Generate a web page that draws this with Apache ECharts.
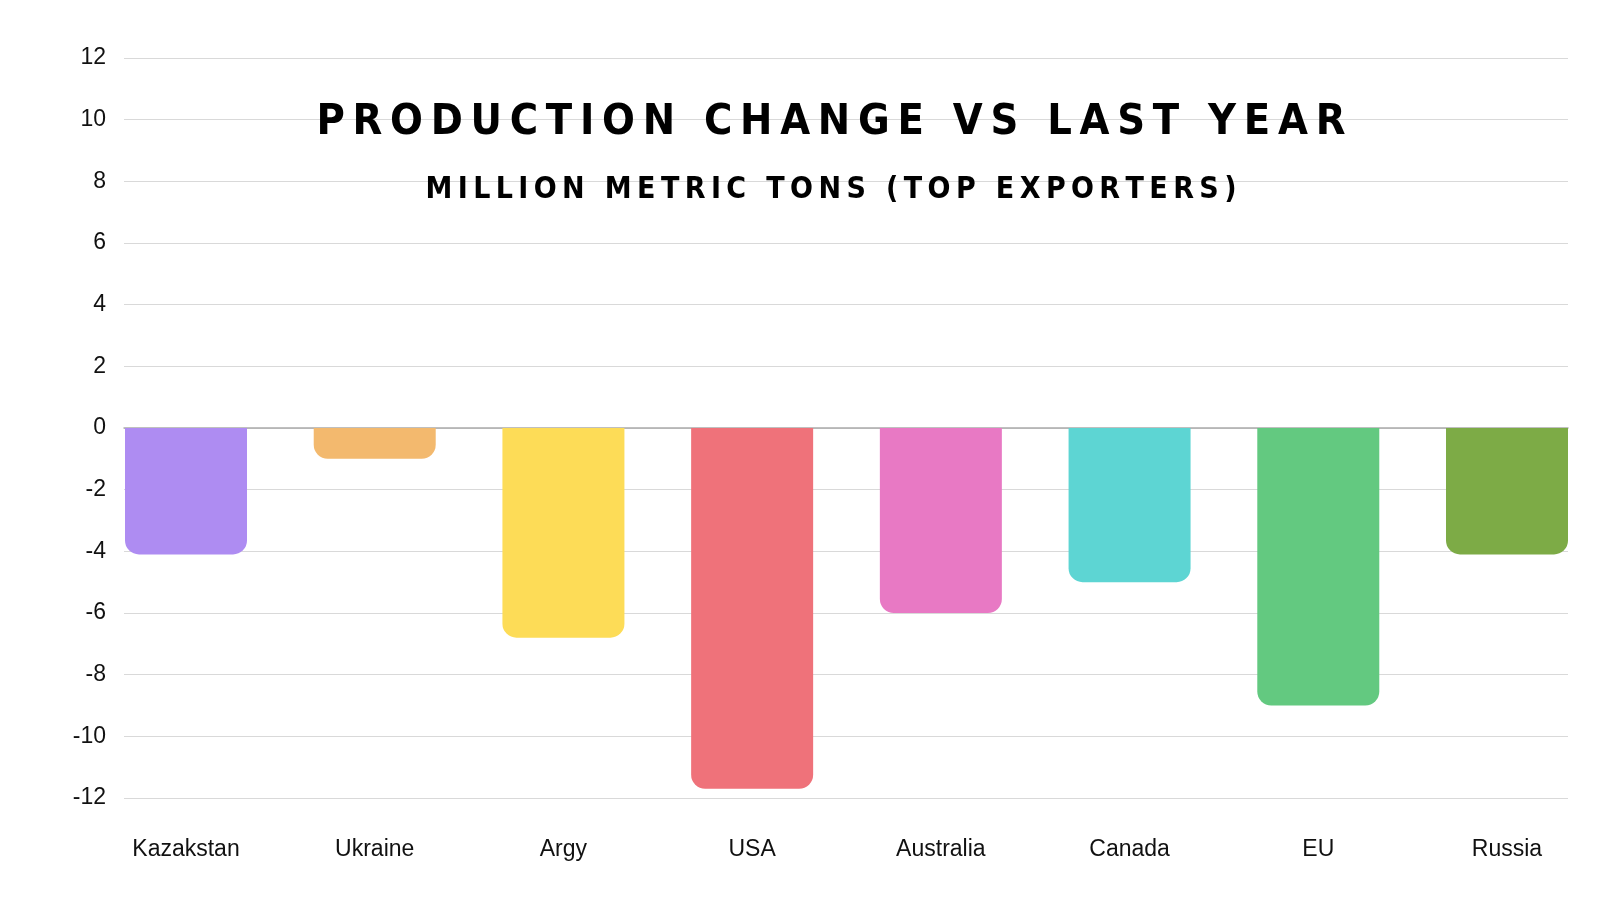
<!DOCTYPE html>
<html><head><meta charset="utf-8">
<script src="https://cdn.jsdelivr.net/npm/echarts@6/dist/echarts.min.js"></script>
<style>html,body{margin:0;background:#fff}#chart{width:1600px;height:900px}</style>
</head><body><div id="chart"></div>
<script>
const countries = ['Kazakstan', 'Ukraine', 'Argy', 'USA', 'Australia', 'Canada', 'EU', 'Russia'];
const changes = [-4.1, -1.0, -6.8, -11.7, -6.0, -5.0, -9.0, -4.1];
const barColors = ['#ae8cf2', '#f3b96e', '#fddc57', '#ef727a', '#e879c4', '#5dd5d3', '#63c980', '#7dab46'];

function spaced(s) { return s.split('').join('\u2009'); }

const chart = echarts.init(document.getElementById('chart'));
chart.setOption({
    animation: false,
    title: [
        { text: spaced('PRODUCTION CHANGE VS LAST YEAR'), left: 826, top: 96, textAlign: 'center',
          textStyle: { fontFamily: 'DejaVu Sans Condensed', fontWeight: 'bold', fontSize: 43, color: '#000' } },
        { text: spaced('MILLION METRIC TONS (TOP EXPORTERS)'), left: 826, top: 170, textAlign: 'center',
          textStyle: { fontFamily: 'DejaVu Sans Condensed', fontWeight: 'bold', fontSize: 30, color: '#000' } }
    ],
    grid: [
        { left: 124, right: 32, top: 58, bottom: 102 },
        { left: 186, right: 93, top: 58, bottom: 102 }
    ],
    xAxis: [
        { gridIndex: 0, type: 'value', min: 0, max: 1, axisLabel: { show: false }, splitLine: { show: false },
          axisTick: { show: false }, axisLine: { onZero: true, lineStyle: { color: '#aaa', width: 1.5 } } },
        { gridIndex: 1, type: 'category', data: countries, boundaryGap: false,
          axisLine: { show: false, onZero: false }, axisTick: { show: false },
          axisLabel: { margin: 40, fontSize: 23, color: '#111', fontFamily: 'Liberation Sans' } }
    ],
    yAxis: [
        { gridIndex: 0, type: 'value', min: -12, max: 12, interval: 2,
          axisLabel: { fontSize: 23, color: '#111', margin: 18, fontFamily: 'Liberation Sans' },
          axisLine: { show: false }, axisTick: { show: false },
          splitLine: { lineStyle: { color: '#d9d9d9', width: 1 } } },
        { gridIndex: 1, type: 'value', min: -12, max: 12, show: false }
    ],
    series: [{
        type: 'bar', xAxisIndex: 1, yAxisIndex: 1, barWidth: 122, clip: false,
        data: changes.map((v, i) => ({ value: v, itemStyle: { color: barColors[i], borderRadius: [0, 0, 14, 14] } }))
    }]
});
</script></body></html>
